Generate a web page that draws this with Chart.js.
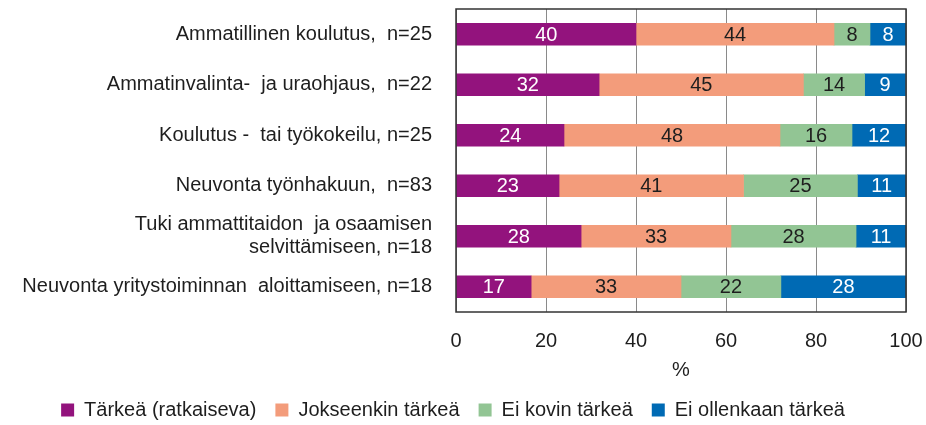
<!DOCTYPE html>
<html>
<head>
<meta charset="utf-8">
<script src="https://cdn.jsdelivr.net/npm/chart.js@4"></script>
<style>
  html, body { margin: 0; padding: 0; background: #fff; overflow: hidden; }
  #wrap { width: 926px; height: 425px; }
</style>
</head>
<body>
<div id="wrap"><canvas id="chart"></canvas></div>
<script>
const categories = [
  'Ammatillinen koulutus,  n=25',
  'Ammatinvalinta-  ja uraohjaus,  n=22',
  'Koulutus -  tai työkokeilu, n=25',
  'Neuvonta työnhakuun,  n=83',
  ['Tuki ammattitaidon  ja osaamisen', 'selvittämiseen, n=18'],
  'Neuvonta yritystoiminnan  aloittamiseen, n=18'
];
const seriesNames = ['Tärkeä (ratkaiseva)', 'Jokseenkin tärkeä', 'Ei kovin tärkeä', 'Ei ollenkaan tärkeä'];
const tarkea = [40, 31.8, 24, 22.9, 27.8, 16.7];
const jokseenkin = [44, 45.4, 48, 41.0, 33.3, 33.3];
const eiKovin = [8, 13.6, 16, 25.3, 27.8, 22.2];
const eiOllenkaan = [8, 9.1, 12, 10.8, 11.1, 27.8];
const xTicks = [0, 20, 40, 60, 80, 100];

const colors = ['#93137d', '#f39c7b', '#92c594', '#006ab4'];
const labelColors = ['#ffffff', '#1e1e1e', '#1e1e1e', '#ffffff'];
const FONT = "'Liberation Sans', Arial, sans-serif";

// draws the value in the middle of each bar segment
const segmentLabels = {
  id: 'segmentLabels',
  afterDatasetsDraw(chart) {
    const ctx = chart.ctx;
    ctx.save();
    ctx.font = '20px ' + FONT;
    ctx.textAlign = 'center';
    ctx.textBaseline = 'middle';
    chart.data.datasets.forEach((ds, i) => {
      const meta = chart.getDatasetMeta(i);
      meta.data.forEach((bar, j) => {
        const p = bar.getCenterPoint();
        ctx.fillStyle = labelColors[i];
        ctx.fillText(String(Math.round(ds.data[j])), p.x, p.y + 1);
      });
    });
    ctx.restore();
  }
};

// frame round the plot area
const plotFrame = {
  id: 'plotFrame',
  afterDatasetsDraw(chart) {
    const a = chart.chartArea;
    const ctx = chart.ctx;
    ctx.save();
    ctx.strokeStyle = '#333333';
    ctx.lineWidth = 1.5;
    ctx.strokeRect(a.left, a.top, a.right - a.left, a.bottom - a.top);
    ctx.restore();
  }
};

new Chart(document.getElementById('chart'), {
  type: 'bar',
  data: {
    labels: categories,
    datasets: [tarkea, jokseenkin, eiKovin, eiOllenkaan].map((d, i) => ({
      label: seriesNames[i],
      data: d,
      backgroundColor: colors[i],
      borderWidth: 0,
      barThickness: 22
    }))
  },
  options: {
    indexAxis: 'y',
    responsive: true,
    maintainAspectRatio: false,
    animation: false,
    layout: { padding: { top: 9, right: 20, left: 0, bottom: -5 } },
    plugins: {
      tooltip: { enabled: false },
      legend: {
        position: 'bottom',
        labels: {
          font: { family: FONT, size: 20 },
          color: '#1e1e1e',
          boxWidth: 13,
          boxHeight: 13,
          padding: 19
        }
      }
    },
    scales: {
      x: {
        stacked: true,
        min: 0,
        max: 100,
        afterBuildTicks(scale) {
          scale.ticks = xTicks.map(v => ({ value: v }));
        },
        afterFit(scale) {
          scale.height = 69;
          scale.paddingLeft = 0;
          scale.paddingRight = 0;
        },
        grid: { color: '#8a8a8a', lineWidth: 1, drawTicks: false },
        border: { display: false },
        ticks: {
          font: { family: FONT, size: 20 },
          color: '#1e1e1e',
          padding: 17
        },
        title: {
          display: true,
          text: '%',
          font: { family: FONT, size: 20 },
          color: '#1e1e1e',
          padding: { top: 0, bottom: -1 }
        }
      },
      y: {
        stacked: true,
        afterFit(scale) {
          scale.width = 456;
          scale.paddingTop = 0;
          scale.paddingBottom = 0;
        },
        grid: { display: false, drawTicks: false },
        border: { display: false },
        ticks: {
          autoSkip: false,
          font: { family: FONT, size: 20, lineHeight: 1.15 },
          color: '#1e1e1e',
          padding: 24
        }
      }
    }
  },
  plugins: [segmentLabels, plotFrame]
});
</script>
</body>
</html>
